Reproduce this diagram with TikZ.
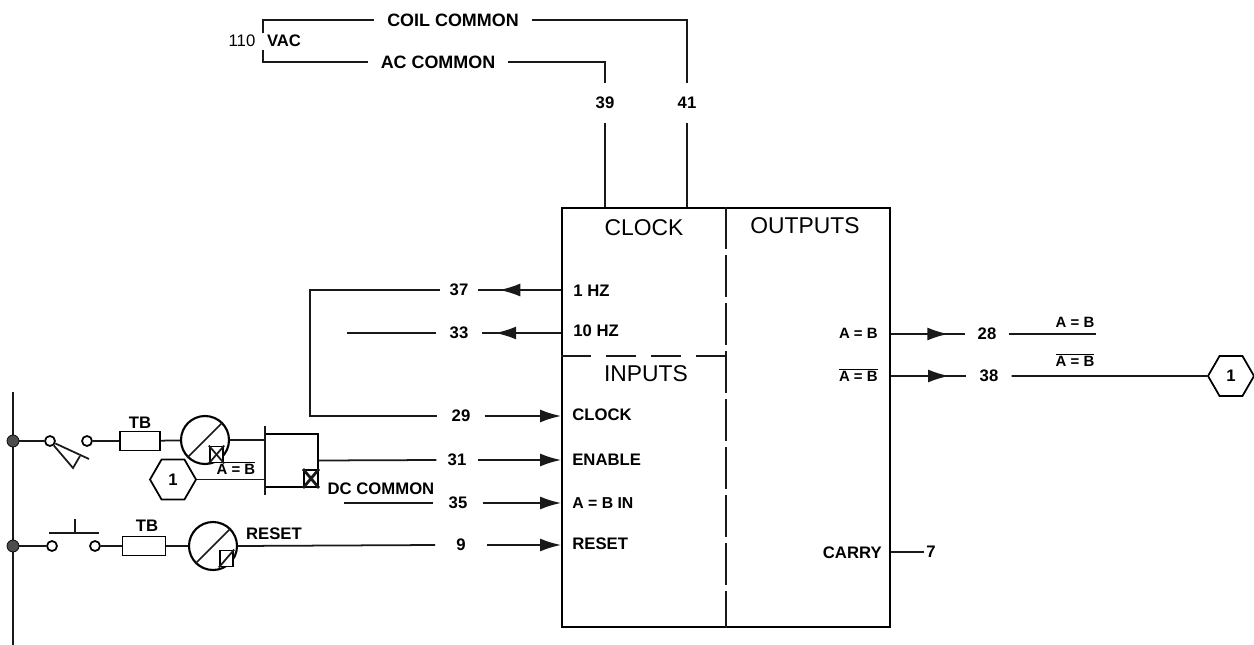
\documentclass[tikz,border=0pt]{standalone}
\usepackage{fontspec}
\setmainfont{Liberation Sans}
\usetikzlibrary{arrows.meta}
\usetikzlibrary{decorations.markings}
\usetikzlibrary{shapes.geometric}
\newcommand{\lblfont}{\fontsize{9.5}{11}\selectfont\bfseries}
\newcommand{\headfont}{\fontsize{13}{15}\selectfont}
\tikzset{
    wire/.style={line width=1pt,color=black!90},
    heavy/.style={line width=1.6pt,color=black!90},
    midtip/.style={postaction={decorate},decoration={markings,
        mark=at position #1 with {\arrow{Latex[length=0.42cm,width=0.26cm]}}}},
    endtip/.style={-{Latex[length=0.42cm,width=0.26cm]}},
    lbl/.style={font=\lblfont,inner sep=0pt},
    ablbl/.style={font=\fontsize{8.5}{10}\selectfont\bfseries,inner sep=0pt},
    numlbl/.style={font=\lblfont,inner ysep=0pt,inner xsep=#1*0.02cm},
    vertlbl/.style={font=\lblfont,inner xsep=0pt,inner ysep=0.28cm},
    gaplbl/.style={font=\fontsize{10.2}{12}\selectfont\bfseries,inner ysep=0pt,inner xsep=0.25cm},
    pinlbl/.style={font=\lblfont,inner sep=0pt,anchor=west},
    headlbl/.style={font=\headfont,inner sep=0pt},
    tbbox/.style={draw,line width=1.1pt,inner sep=0pt,minimum width=#1*0.02cm,minimum height=0.38cm},
    contact/.style={draw,circle,line width=1pt,inner sep=0pt,minimum size=0.2cm},
    relay/.style={draw,circle,line width=1.2pt,inner sep=0pt,minimum size=0.96cm},
    busdot/.style={circle,fill=black!70,draw=black,inner sep=0pt,minimum size=0.24cm},
    hexlbl/.style={draw,regular polygon,regular polygon sides=6,line width=1pt,inner sep=0pt,
        minimum size=0.92cm,font=\lblfont},
    flagbox/.style={draw,fill=white,line width=1.1pt,inner sep=0pt,minimum width=0.27cm,minimum height=0.32cm},
}
\begin{document}
\begin{tikzpicture}[x=0.02cm,y=-0.02cm]
    \useasboundingbox (0,0) rectangle (1254,645);
    % main block
    \node[draw,line width=1.1pt,inner sep=0pt,minimum width=6.56cm,minimum height=8.38cm] (mainbox) at (726,417.5) {};
    \coordinate (divmid) at (726,356);
    \draw[wire,dash pattern=on 0.84cm off 0.12cm] (mainbox.north) -- (mainbox.south);
    \draw[wire,dash pattern=on 0.6cm off 0.3cm] (mainbox.west |- divmid) -- (divmid);
    \node[headlbl] (hclock) at (644,228) {CLOCK};
    \node[headlbl] (hinputs) at (646,374) {INPUTS};
    \node[headlbl] (houtputs) at (805,226) {OUTPUTS};
    \node[pinlbl] (p1hz) at (573,291) {1 HZ};
    \node[pinlbl] (p10hz) at (573,331) {10 HZ};
    \node[pinlbl] (pclock) at (572,415) {CLOCK};
    \node[pinlbl] (penable) at (572,460) {ENABLE};
    \node[pinlbl,font=\fontsize{9}{11}\selectfont\bfseries] (pabin) at (572,503) {A = B IN};
    \node[pinlbl] (preset) at (572,544) {RESET};
    \node[ablbl,anchor=east] (pab) at (878,333) {A = B};
    \node[ablbl,anchor=east] (pnab) at (878,375) {$\overline{\mbox{A = B}}$};
    \node[lbl,anchor=east] (pcarry) at (882,553) {CARRY};
    % supply
    \node[lbl,font=\fontsize{9.5}{11}\selectfont] (n110) at (242,41) {110};
    \node[lbl] (nvac) at (284,41) {VAC};
    \node[gaplbl] (ncoil) at (453,20) {COIL COMMON};
    \node[gaplbl] (nac) at (438,62) {AC COMMON};
    \node[vertlbl] (n39) at (605,103) {39};
    \node[vertlbl] (n41) at (687,103) {41};
    \coordinate (brkA) at (263,33);
    \coordinate (brkB) at (263,50);
    \draw[wire] (brkA) |- (ncoil.west);
    \draw[wire] (ncoil.east) -| (n41.north);
    \draw[wire] (brkB) |- (nac.west);
    \draw[wire] (nac.east) -| (n39.north);
    \draw[wire] (n39.south) -- (n39.south |- mainbox.north);
    \draw[wire] (n41.south) -- (n41.south |- mainbox.north);
    % clock outputs and inputs
    \node[numlbl=9] (n37) at (459,290) {37};
    \node[numlbl=13] (n33) at (459,333) {33};
    \node[numlbl=14] (n29) at (461,416) {29};
    \node[numlbl=11] (n31) at (457,460) {31};
    \node[numlbl=15] (n35) at (458,503) {35};
    \node[numlbl=21] (n9) at (461,545) {9};
    \coordinate (bendA) at (310,290);
    \coordinate (freeA) at (347,333);
    \coordinate (freeB) at (344,503);
    \draw[wire,midtip=0.74] (mainbox.west |- n37) -- (n37.east);
    \draw[wire] (n37.west) -- (bendA) |- (n29.west);
    \draw[wire,midtip=0.83] (mainbox.west |- n33) -- (n33.east);
    \draw[wire] (n33.west) -- (freeA);
    \draw[wire,endtip] (n29.east) -- (mainbox.west |- n29);
    \draw[wire,endtip] (n31.east) -- (mainbox.west |- n31);
    \draw[wire,endtip] (n35.east) -- (mainbox.west |- n35);
    \draw[wire,endtip] (n9.east) -- (mainbox.west |- n9);
    \node[lbl] (ndc) at (381,489) {DC COMMON};
    \draw[wire] (freeB) -- (n35.west);
    % bus and switches
    \coordinate (busT) at (13,392);
    \coordinate (busB) at (13,645);
    \draw[heavy] (busT) -- (busB);
    \node[busdot] (dotA) at (13,441) {};
    \node[busdot] (dotB) at (13,546) {};
    \node[contact] (swAl) at (50,441) {};
    \node[contact] (swAr) at (87,441) {};
    \node[contact] (swBl) at (52,546) {};
    \node[contact] (swBr) at (95,546) {};
    \draw[wire] (dotA) -- (swAl);
    \draw[wire] (dotB) -- (swBl);
    \coordinate (levA) at (89,459);
    \coordinate (levB) at (73,468);
    \coordinate (levC) at (80,456);
    \draw[wire] (swAl) -- (levA);
    \draw[wire] (swAl) -- (levB) -- (levC);
    \coordinate (pbL) at (49,533);
    \coordinate (pbR) at (99,533);
    \coordinate (pbM) at (75,533);
    \coordinate (pbT) at (75,519);
    \draw[wire] (pbL) -- (pbR);
    \draw[wire] (pbM) -- (pbT);
    \node[tbbox=40] (tbA) at (140,441) {};
    \node[tbbox=43] (tbB) at (144,546) {};
    \node[lbl] (tbAl) at (140,423) {TB};
    \node[lbl] (tbBl) at (147,526) {TB};
    \node[relay] (relA) at (205,440) {};
    \node[relay] (relB) at (213,546) {};
    \draw[wire] (swAr) -- (tbA);
    \draw[wire] (tbA) -- (relA);
    \draw[wire] (swBr) -- (tbB);
    \draw[wire] (tbB) -- (relB);
    \draw[wire] (relA.225) -- (relA.45);
    \draw[wire] (relB.225) -- (relB.45);
    \node[ablbl] (nab) at (236,468) {$\overline{\mbox{A = B}}$};
    \node[lbl] (nreset) at (274,534) {RESET};
    \node[flagbox] (sqA) at (216.5,454.5) {};
    \node[flagbox] (sqC) at (226.5,558.5) {};
    \draw[wire] (sqA.north west) -- (sqA.south east);
    \draw[wire] (sqA.north east) -- (sqA.south west);
    \draw[wire] (sqC.north east) -- (sqC.south west);
    % gate
    \node[draw,line width=1.1pt,inner sep=0pt,minimum size=1.06cm] (gate) at (291.5,460.5) {};
    \node[flagbox,minimum width=0.28cm,minimum height=0.34cm] (sqB) at (311,478.5) {};
    \draw[heavy] (sqB.north west) -- (sqB.south east);
    \draw[heavy] (sqB.north east) -- (sqB.south west);
    \coordinate (barT) at (265,426);
    \coordinate (barB) at (265,495);
    \draw[wire] (barT) -- (barB);
    \node[hexlbl] (hexA) at (173,479.5) {1};
    \draw[wire] (relA.east) -- (relA.east -| gate.west);
    \draw[wire] (hexA.east) -- (hexA.east -| gate.west);
    \draw[wire] (gate.east) -- (n31.west);
    \draw[wire] (relB.east) -- (n9.west);
    % outputs
    \node[numlbl=12] (n28) at (987,334) {28};
    \node[numlbl=13] (n38) at (989,376) {38};
    \node[numlbl=2] (n7) at (931,552) {7};
    \node[ablbl] (oab) at (1075,322) {A = B};
    \node[ablbl] (onab) at (1075,360) {$\overline{\mbox{A = B}}$};
    \coordinate (endA) at (1096,334);
    \node[hexlbl] (hexB) at (1231,376) {1};
    \draw[wire,midtip=0.77] (mainbox.east |- n28) -- (n28.west);
    \draw[wire,midtip=0.77] (mainbox.east |- n38) -- (n38.west);
    \draw[wire] (n28.east) -- (endA);
    \draw[wire] (n38.east) -- (hexB.west);
    \draw[wire] (mainbox.east |- n7) -- (n7.west);
\end{tikzpicture}
\end{document}
